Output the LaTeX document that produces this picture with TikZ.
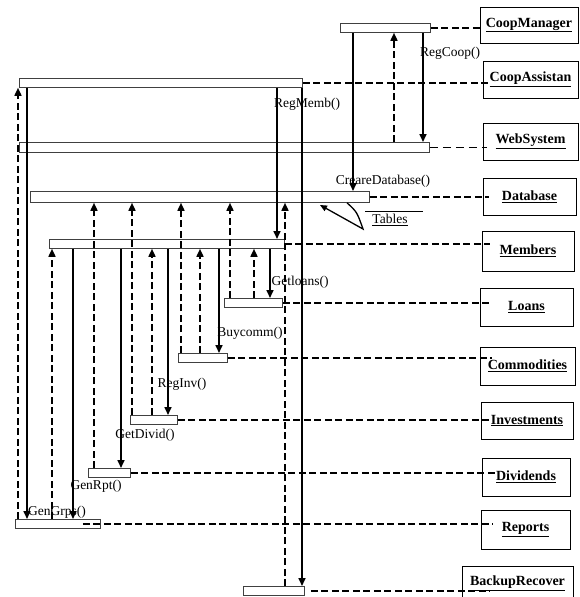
\documentclass[tikz,border=0pt]{standalone}
\usepackage{fontspec}
\setmainfont{Liberation Serif}
\usetikzlibrary{arrows.meta,calc}

\tikzset{
  obj/.style={draw, line width=1pt, inner sep=0pt, font=\fontsize{14}{16}\selectfont\bfseries},
  act/.style={draw=black!75, line width=0.8pt, inner sep=0pt, anchor=north west},
  call/.style={line width=1.6pt, -{Triangle[length=8pt,width=7pt]}},
  reply/.style={line width=1.6pt, dash pattern=on 7pt off 3.5pt, -{Triangle[length=8pt,width=7pt]}},
  link/.style={line width=1.6pt, dash pattern=on 7pt off 3.5pt},
  lbl/.style={inner sep=0pt, font=\fontsize{13.5}{15}\selectfont}
}

\begin{document}
\begin{tikzpicture}[x=1pt,y=-1pt]
            \useasboundingbox (0,0) rectangle (579,597);
            % objects on the right
            \foreach \nm/\txt/\x/\y/\w/\h in {cm/CoopManager/529/25/98/36, ca/CoopAssistan/530.5/79.5/95/37, ws/WebSystem/530.5/141.5/95/37, db/Database/529.5/196.5/93/37, mb/Members/528/251/92/40, ln/Loans/526.5/307/93/38, co/Commodities/527.5/366/95/38, iv/Investments/527/420.5/92/37, dv/Dividends/526/477/88/38, rp/Reports/525.5/529.5/89/39, br/BackupRecover/517.5/583/111/34}{
            \node[obj, minimum width=\w pt, minimum height=\h pt] (\nm) at (\x,\y) {\underline{\txt}};
            }
            % activation bars
            \foreach \nm/\x/\y/\w/\h in {cm/340/23/90/9, ca/19/78/283/9, ws/19/142/410/10, db/30/191/339/11, mb/49/239/235/9, ln/224/298/58/9, co/178/353/49/9, iv/130/415/47/9, dv/88/468/42/9, rp/15/519/85/9, br/243/586/61/9}{
            \node[act, minimum width=\w pt, minimum height=\h pt] (\nm-act) at (\x,\y) {};
            }
            % bars to objects
            \foreach \o/\dx in {cm/0, ca/7, db/6, mb/8, ln/10, co/12, iv/9, dv/13}{
            \draw[link] (\o-act.east) -- ([xshift=\dx pt]\o-act.east -| \o.west);
            }
            \draw[line width=0.9pt, dash pattern=on 8pt off 5pt] (ws-act.east) -- ([xshift=4pt]ws-act.east -| ws.west);
            \draw[link] ([xshift=-18pt]rp-act.east) -- ([xshift=12pt]rp-act.east -| rp.west);
            \draw[link] ([xshift=6pt]br-act.east) -- ([xshift=28pt]br-act.east -| br.west);
            % calls
            \foreach \x/\a/\b in {353/cm/db, 423/cm/ws, 302/ca/br, 277/ca/mb, 27/ca/rp, 73/mb/rp, 121/mb/dv, 168/mb/iv, 219/mb/co, 270/mb/ln}{
            \draw[call] (\a-act.south -| \x,0) -- (\b-act.north -| \x,0);
            }
            % returns
            \foreach \x/\a/\b in {394/ws/cm, 18/rp/ca, 52/rp/mb, 94/dv/db, 132/iv/db, 152/iv/mb, 181/co/db, 200/co/mb, 230/ln/db, 254/ln/mb, 285/br/db}{
            \draw[reply] (\a-act.north -| \x,0) -- (\b-act.south -| \x,0);
            }
            % message names
            \node[lbl] (regcoop) at (450,53) {RegCoop()};
            \node[lbl] (regmemb) at (307,104) {RegMemb()};
            \node[lbl] (credb) at (383,181) {CreareDatabase()};
            \node[lbl] (getloans) at (300,282) {Getloans()};
            \node[lbl] (buycomm) at (250,333) {Buycomm()};
            \node[lbl] (reginv) at (182,384) {RegInv()};
            \node[lbl] (getdivid) at (145,435) {GetDivid()};
            \node[lbl] (genrpt) at (96,486) {GenRpt()};
            \node[lbl] (gengrps) at (57,512) {GenGrps()};
            % tables
            \node[lbl] (tables) at (390,220) {\underline{Tables}};
            \draw[line width=0.8pt] ([xshift=-7pt,yshift=3pt]tables.north west) -- ([xshift=15pt,yshift=3pt]tables.north east);
            \draw[line width=1.3pt, -{Triangle[length=7pt,width=6pt]}] (db-act.south -| 347,0) .. controls (357,212) .. (363,229) -- (320,205);
        \end{tikzpicture}
\end{document}
